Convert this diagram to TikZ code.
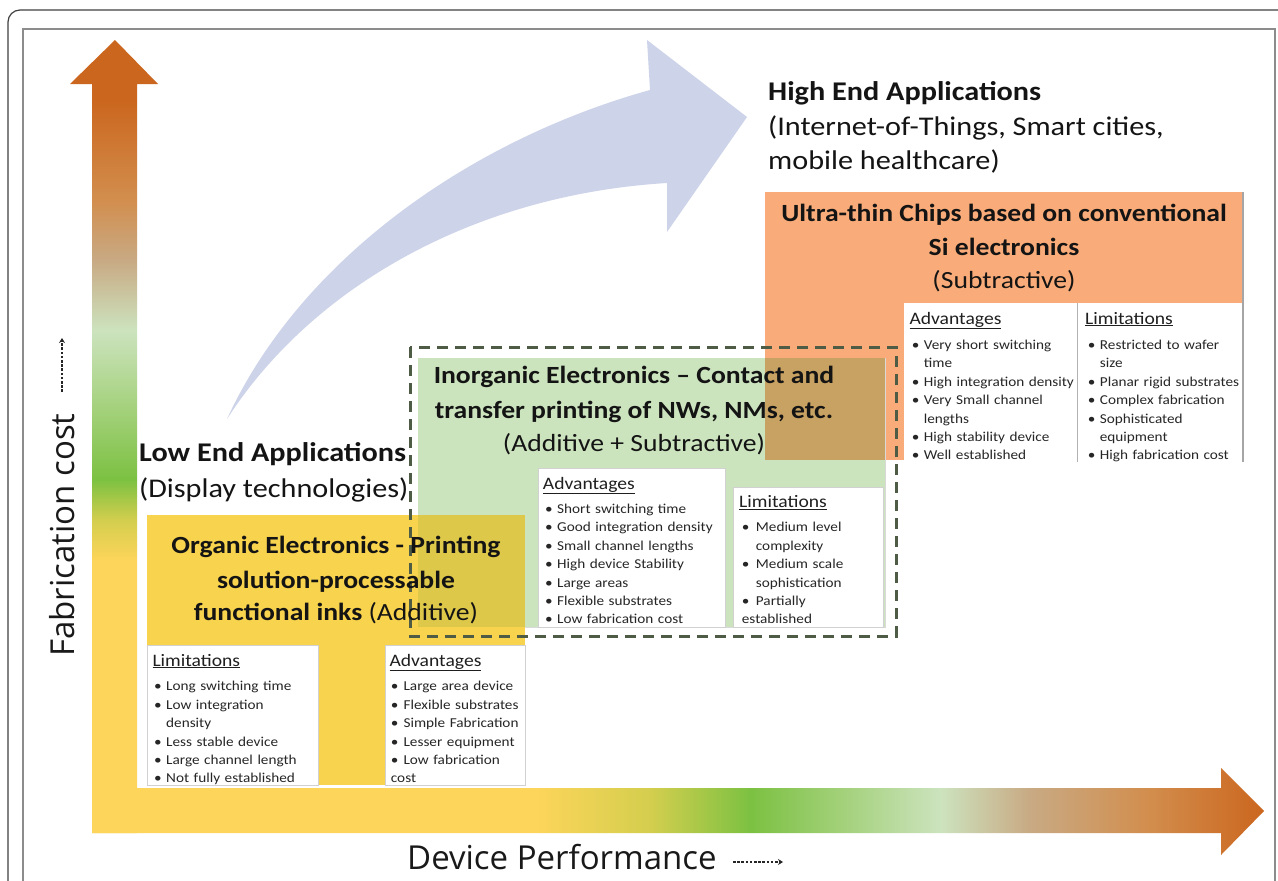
\documentclass[tikz,border=0pt]{standalone}
\usepackage{fontspec}
\setmainfont{Carlito}[FakeStretch=1.12]
\newfontfamily\axisfont{Open Sans}
\usetikzlibrary{arrows.meta}

% axis gradient colours
\definecolor{ayellow}{HTML}{FCD55A}
\definecolor{ayelgreen}{HTML}{D4CE4E}
\definecolor{agreen}{HTML}{7CC142}
\definecolor{amidgreen}{HTML}{A6D27F}
\definecolor{alightgreen}{HTML}{CCE3BE}
\definecolor{atan}{HTML}{C8AA84}
\definecolor{aorangetan}{HTML}{D28E4E}
\definecolor{aorange}{HTML}{CB661E}
% box colours
\definecolor{boxorange}{HTML}{F9AC79}
\definecolor{boxgreen}{HTML}{CCE4BE}
\definecolor{boxyellow}{HTML}{F8D34E}
\definecolor{olivemix}{HTML}{C8A262}
\definecolor{mustardmix}{HTML}{DEC84A}
\definecolor{curveblue}{HTML}{CDD3E8}
\definecolor{dashgreen}{HTML}{4E5B45}

\pgfdeclareverticalshading{costaxis}{100bp}{%
  color(0bp)=(ayellow); color(42.2bp)=(ayellow); color(44.7bp)=(ayelgreen);
  color(47.3bp)=(agreen); color(52bp)=(amidgreen); color(56.7bp)=(alightgreen);
  color(61.1bp)=(atan); color(64.9bp)=(aorangetan); color(71.2bp)=(aorange);
  color(100bp)=(aorange)}
\pgfdeclarehorizontalshading{perfaxis}{100bp}{%
  color(0bp)=(ayellow); color(44bp)=(ayellow); color(48.8bp)=(ayelgreen);
  color(53.1bp)=(agreen); color(57.3bp)=(amidgreen); color(61.2bp)=(alightgreen);
  color(65bp)=(atan); color(70bp)=(aorangetan); color(75bp)=(aorange);
  color(100bp)=(aorange)}

\newlength{\bulletgap}
\setlength{\bulletgap}{12pt}
\newcommand{\ib}[1]{\par\hangindent=\bulletgap\hangafter=1\noindent
  \makebox[\bulletgap][l]{\textbullet}#1}

\tikzset{
  whitebox/.style={fill=white, draw=black!18, line width=0.6pt},
  colhead/.style={anchor=base west, inner sep=0pt,
    font=\fontsize{17.5}{20}\selectfont, text=black!88},
  listtext/.style={anchor=base west, inner sep=0pt, text width=200pt, align=left,
    font=\fontsize{13.6}{18.4}\selectfont, text=black!85},
  boxtitle/.style={anchor=base, inner sep=0pt,
    font=\fontsize{24.7}{30}\selectfont\bfseries, text=black!92},
  boxsub/.style={anchor=base, inner sep=0pt,
    font=\fontsize{24.7}{30}\selectfont, text=black!92},
  applabel/.style={anchor=base west, inner sep=0pt,
    font=\fontsize{27}{32}\selectfont, text=black!92},
  axislabel/.style={inner sep=0pt, font=\axisfont\fontsize{33}{38}\selectfont, text=black!90},
  smallarrow/.style={line width=2pt, dash pattern=on 2.6pt off 1.6pt,
    -{Stealth[length=5pt,width=6pt]}, black!85},
}

\begin{document}
\begin{tikzpicture}[x=1pt, y=-1pt]
\useasboundingbox (0,0) rectangle (1278,881);
\fill[white] (0,0) rectangle (1278,881);

% frames
\draw[black!75, line width=1.2pt, rounded corners=12pt] (8,900) -- (8,10) -- (1300,10);
\draw[black!45, line width=2.5pt] (23,900) -- (23,29) -- (1275,29) -- (1275,900);

% axes
\shade[shading=costaxis] (92,833) -- (92,84) -- (70,84) -- (115,40) -- (158,84)
  -- (137,84) -- (137,833) -- cycle;
\shade[shading=perfaxis] (92,788) -- (1221,788) -- (1221,768) -- (1264,811)
  -- (1221,855) -- (1221,833) -- (92,833) -- cycle;

% curved trend arrow
\fill[curveblue] (227,419) .. controls (300,260) and (470,140) .. (650,90)
  -- (647,40) -- (747,117) -- (667,232) -- (667,183)
  .. controls (470,195) and (310,290) .. (227,419) -- cycle;

% ultra-thin chips block
\fill[boxorange] (765,192) rectangle (1243,460);
% inorganic block
\fill[boxgreen] (418,358) rectangle (885,627);
\fill[olivemix] (765,358) rectangle (885,460);
\draw[black!15, line width=0.6pt] (885,358) -- (885,627) -- (418,627);
% organic block
\fill[boxyellow] (147,515) rectangle (525,785);
\fill[mustardmix] (418,515) rectangle (525,627);

% white columns
\fill[white] (904,303) rectangle (1243,462);
\draw[black!30, line width=0.8pt] (1077,303) -- (1077,462);
\draw[black!35, line width=1.2pt] (1243,192) -- (1243,462);
\path[whitebox] (538,468) rectangle (725,627);
\path[whitebox] (733,487) rectangle (883,627);
\path[whitebox] (147,645) rectangle (318,785);
\path[whitebox] (385,645) rectangle (525,785);

% dashed frame round the inorganic block
\draw[dashgreen, line width=3pt, dash pattern=on 11pt off 7pt] (410,347) rectangle (896,636);

% application labels
\node[applabel, font=\fontsize{27}{32}\selectfont\bfseries] (hiA) at (768,100) {High End Applications};
\node[applabel] (hiB) at (768,135) {(Internet-of-Things, Smart cities,};
\node[applabel] (hiC) at (768,169) {mobile healthcare)};
\node[applabel, font=\fontsize{27}{32}\selectfont\bfseries] (loA) at (139,461) {Low End Applications};
\node[applabel] (loB) at (139,497) {(Display technologies)};

% ultra-thin chips text
\node[boxtitle] (utA) at (1004,221) {Ultra-thin Chips based on conventional};
\node[boxtitle] (utB) at (1004,255) {Si electronics};
\node[boxsub] (utC) at (1004,288) {(Subtractive)};
\node[colhead] (utAdvH) at (909.3,324) {\underline{Advantages}};
\node[listtext] (utAdv) at (911.7,331) {%
  \ib{Very short switching\newline time}
  \ib{High integration density}
  \ib{Very Small channel\newline lengths}
  \ib{High stability device}
  \ib{Well established}};
\node[colhead] (utLimH) at (1085,324) {\underline{Limitations}};
\node[listtext] (utLim) at (1087.7,331) {%
  \ib{Restricted to wafer\newline size}
  \ib{Planar rigid substrates}
  \ib{Complex fabrication}
  \ib{Sophisticated\newline equipment}
  \ib{High fabrication cost}};

% inorganic text
\node[boxtitle] (inA) at (634,383) {Inorganic Electronics – Contact and};
\node[boxtitle] (inB) at (634,418) {transfer printing of NWs, NMs, etc.};
\node[boxsub] (inC) at (634,451) {(Additive + Subtractive)};
\node[colhead] (inAdvH) at (542.7,489) {\underline{Advantages}};
\node[listtext] (inAdv) at (545,495) {%
  \ib{Short switching time}
  \ib{Good integration density}
  \ib{Small channel lengths}
  \ib{High device Stability}
  \ib{Large areas}
  \ib{Flexible substrates}
  \ib{Low fabrication cost}};
\node[colhead] (inLimH) at (739,507.5) {\underline{Limitations}};
\node[listtext] (inLim) at (741.7,513.5) {\setlength{\bulletgap}{14pt}%
  \ib{Medium level\newline complexity}
  \ib{Medium scale\newline sophistication}
  \ib{Partially\newline established}};

% organic text
\node[boxtitle] (orA) at (336,553) {Organic Electronics - Printing};
\node[boxtitle] (orB) at (336,588) {solution-processable};
\node[boxsub] (orC) at (336,620) {\textbf{functional inks} (Additive)};
\node[colhead] (orLimH) at (152.3,666) {\underline{Limitations}};
\node[listtext] (orLim) at (154,672.5) {%
  \ib{Long switching time}
  \ib{Low integration\newline density}
  \ib{Less stable device}
  \ib{Large channel length}
  \ib{Not fully established}};
\node[colhead] (orAdvH) at (389.3,666) {\underline{Advantages}};
\node[listtext] (orAdv) at (390.7,672.5) {\setlength{\bulletgap}{12.7pt}%
  \ib{Large area device}
  \ib{Flexible substrates}
  \ib{Simple Fabrication}
  \ib{Lesser equipment}
  \ib{Low fabrication\newline cost}};

% axis labels
\node[axislabel, anchor=base west] (xlab) at (407,869) {Device Performance};
\node[axislabel, rotate=90] (ylab) at (62,535) {Fabrication cost};
\coordinate (xarrA) at (733,862);
\coordinate (xarrB) at (783,862);
\coordinate (yarrA) at (62,392);
\coordinate (yarrB) at (62,338);
\draw[smallarrow] (xarrA) -- (xarrB);
\draw[smallarrow] (yarrA) -- (yarrB);
\end{tikzpicture}
\end{document}
